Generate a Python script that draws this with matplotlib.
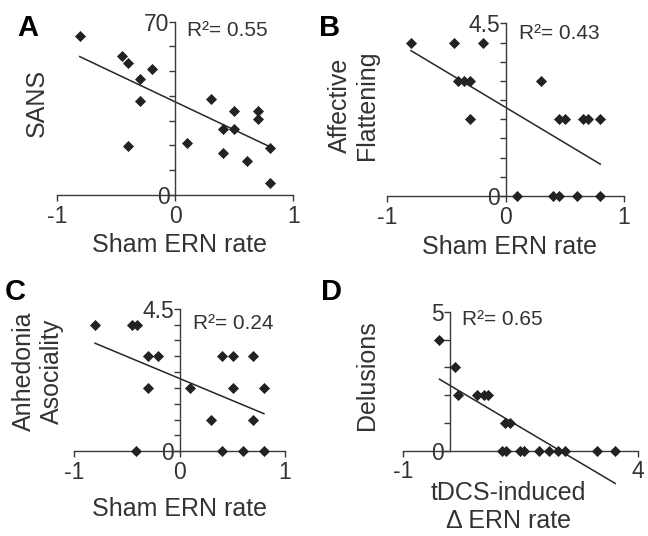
import numpy as np
import matplotlib
matplotlib.use("Agg")
import matplotlib.pyplot as plt

plt.rcParams['font.family'] = ['Liberation Sans', 'DejaVu Sans']

# --- data ---
sham_a = [-0.81, -0.45, -0.40, -0.30, -0.20, -0.30, -0.40, 0.10, 0.30,
          0.40, 0.50, 0.50, 0.40, 0.61, 0.70, 0.70, 0.80, 0.80]
sans = [64.2, 56.1, 53.2, 47.0, 51.0, 38.0, 19.8, 21.1, 38.9,
        26.8, 34.1, 26.8, 16.8, 13.9, 34.1, 30.7, 18.8, 4.7]

sham_b = [-0.80, -0.44, -0.19, -0.40, -0.35, -0.30, -0.30, 0.30, 0.45,
          0.50, 0.65, 0.70, 0.80, 0.10, 0.40, 0.45, 0.60, 0.80]
affective = [4, 4, 4, 3, 3, 3, 2, 3, 2, 2, 2, 2, 2, 0, 0, 0, 0, 0]

sham_c = [-0.80, -0.45, -0.40, -0.30, -0.20, -0.30, 0.10, -0.41, 0.30,
          0.40, 0.51, 0.70, 0.51, 0.80, 0.70, 0.40, 0.60, 0.80]
anhedonia = [4, 4, 4, 3, 3, 2, 2, 0, 1, 3, 3, 3, 2, 2, 1, 0, 0, 0]

delta_d = [-0.22, 0.10, 0.18, 0.58, 0.72, 0.80, 1.17, 1.28, 1.10, 1.19,
           1.49, 1.58, 1.89, 2.11, 2.29, 2.45, 3.12, 3.51]
delusions = [4, 3, 2, 2, 2, 2, 1, 1, 0, 0, 0, 0, 0, 0, 0, 0, 0, 0]

# regression lines as drawn (slope, intercept)
fit_slopes = [-22.6, -1.85, -1.39, -1.005]
fit_icpts = [37.6, 2.31, 2.30, 2.35]
r2_labels = ['0.55', '0.43', '0.24', '0.65']

W, H = 648, 536
fig = plt.figure(figsize=(W / 100, H / 100), dpi=100)


def px_axes(left, right, top, bottom):
    return fig.add_axes([left / W, 1 - bottom / H, (right - left) / W, (bottom - top) / H])


txt = '#333333'
mk = '#222222'
axc = '#3a3a3a'


def panel(ax, i, x, y, xlim, ylim, yminor, xticks, ylabel, xlabel, r2pos, ylab_pos, xlab_pos):
    ax.set_xlim(xlim)
    ax.set_ylim(ylim)
    for s in ['top', 'right']:
        ax.spines[s].set_visible(False)
    ax.spines['left'].set_position(('data', 0))
    ax.spines['bottom'].set_position(('data', 0))
    for s in ['left', 'bottom']:
        ax.spines[s].set_color(axc)
        ax.spines[s].set_linewidth(1.0)
    ax.patch.set_visible(False)

    ax.set_yticks(list(ylim))
    ax.set_yticklabels([('%g' % v) for v in ylim])
    ax.set_yticks(yminor, minor=True)
    ax.set_xticks(xticks)
    ax.set_xticklabels([('%g' % v) for v in xticks])
    ax.tick_params(axis='y', which='both', direction='out', length=4, width=1.0,
                   color=axc, labelsize=16.5, labelcolor=txt, pad=0)
    ax.tick_params(axis='x', which='both', direction='out', length=4, width=1.0,
                   color=axc, labelsize=16.5, labelcolor=txt, pad=3)

    ax.scatter(x, y, marker='D', s=32, color=mk, zorder=3, clip_on=False, linewidths=0)
    xs = np.array([min(x), max(x)])
    ax.plot(xs, fit_slopes[i] * xs + fit_icpts[i], color='#262626', lw=1.1, clip_on=False)

    ax.text(r2pos[0], r2pos[1], 'R\u00b2= ' + r2_labels[i], transform=ax.transAxes,
            fontsize=15, color=txt, ha='left', va='center')
    ax.set_ylabel(ylabel, fontsize=18, color=txt, va='center', linespacing=1.2)
    ax.yaxis.set_label_coords(*ylab_pos)
    ax.set_xlabel(xlabel, fontsize=18, color=txt, va='center', linespacing=1.2)
    ax.xaxis.set_label_coords(*xlab_pos)


ax_a = px_axes(57.3, 293.3, 21.7, 195)
panel(ax_a, 0, sham_a, sans, (-1, 1), (0, 70), np.arange(0, 71, 10), [-1, 0, 1],
      'SANS', 'Sham ERN rate', (0.548, 0.95), (-0.087, 0.534), (0.516, -0.29))

ax_b = px_axes(387.3, 624, 23.4, 196)
panel(ax_b, 1, sham_b, affective, (-1, 1), (0, 4.5), np.arange(0, 4.6, 0.5), [-1, 0, 1],
      'Affective\nFlattening', 'Sham ERN rate', (0.556, 0.94), (-0.143, 0.527), (0.518, -0.295))

ax_c = px_axes(74, 285, 308.8, 451.3)
panel(ax_c, 2, sham_c, anhedonia, (-1, 1), (0, 4.5), np.arange(0, 4.6, 0.5), [-1, 0, 1],
      'Anhedonia\nAsociality', 'Sham ERN rate', (0.5626, 0.90), (-0.169, 0.563), (0.498, -0.404))

ax_d = px_axes(402.7, 638.3, 311.7, 450.7)
panel(ax_d, 3, delta_d, delusions, (-1, 4), (0, 5), np.arange(0, 6, 1), [-1, 4],
      'Delusions', 'tDCS-induced\n\u0394 ERN rate', (0.253, 0.942), (-0.150, 0.541), (0.447, -0.403))

for letter, lx, ly in [('A', 17, 36), ('B', 319, 36), ('C', 5, 300), ('D', 321, 300)]:
    fig.text(lx / W, 1 - ly / H, letter, fontsize=21, fontweight='bold', color='black',
             ha='left', va='baseline')

fig.savefig('out.png', dpi=100)
